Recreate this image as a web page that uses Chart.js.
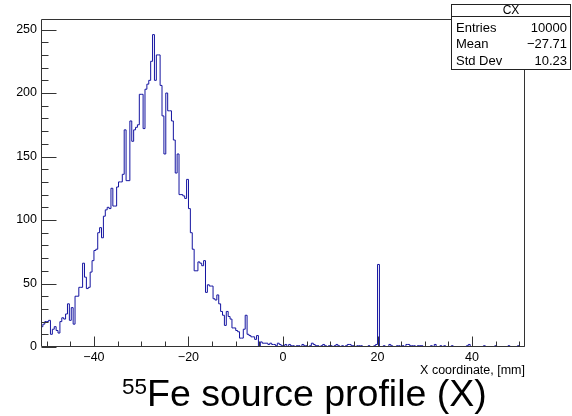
<!DOCTYPE html>
<html>
<head>
<meta charset="utf-8">
<script src="https://cdn.jsdelivr.net/npm/chart.js@4/dist/chart.umd.min.js"></script>
<style>
  body { margin: 0; background: #fff; }
  #wrap { position: relative; width: 572px; height: 416px; font-family: 'Liberation Sans', Arial, sans-serif; }
  #cx { position: absolute; left: 0; top: 0; display: block; }
  #stats { position: absolute; left: 451px; top: 4px; width: 118px; height: 64px; border: 1px solid #222; background: #fff; font-size: 13px; color: #000; }
  #stats .hdr { height: 11px; line-height: 11px; font-size: 12px; text-align: center; border-bottom: 1px solid #222; }
  #stats .rows { padding-top: 3px; }
  #stats .row { display: flex; justify-content: space-between; height: 16.3px; line-height: 16px; padding: 0 3px 0 4px; }
  #title { position: absolute; left: 122px; top: 375px; font-size: 37.5px; line-height: 36px; white-space: nowrap; color: #000; }
  #title .sup { font-size: 22.5px; position: relative; top: -12px; }
</style>
</head>
<body>
<div id="wrap">
  <canvas id="cx" width="572" height="416"></canvas>
  <div id="stats"></div>
  <div id="title"><span class="sup">55</span>Fe source profile (X)</div>
</div>
<script>
// histogram binning: 256 strips, 0.4 mm pitch
const xMin = -51.2;
const xMax = 51.2;
const binWidth = 0.4;

// bin contents, left to right
const countsA = [
    16, 18, 20, 20, 21, 10, 14, 16, 13, 11, 20, 23, 22, 26, 34, 21,
    31, 18, 40, 40, 47, 47, 66, 55, 46, 47, 59, 68, 76, 77, 90, 94,
    86, 103, 108, 110, 109, 125, 111, 111, 126, 130, 130, 136, 171, 131,
    131, 178, 162, 171, 173, 175, 199, 199, 172, 203, 207, 210, 225, 246,
    210, 230, 230, 206
];
const countsB = [
    182, 152, 200, 186, 186, 178, 163, 137, 152, 120, 120, 119, 117, 132, 109, 90,
    77, 60, 60, 67, 66, 64, 68, 43, 49, 48, 48, 38, 37, 41, 34, 28,
    25, 17, 28, 24, 22, 15, 15, 13, 12, 7, 7, 14, 25, 10, 9, 8,
    8, 6, 9, 0, 4, 3, 3, 3, 2, 3, 2, 2, 1, 3, 2, 1
];
const countsC = [
    1, 2, 0, 2, 1, 1, 0, 1, 1, 0, 2, 1, 1, 0, 1, 3,
    2, 1, 1, 0, 1, 2, 1, 0, 1, 1, 0, 1, 2, 1, 0, 1,
    0, 1, 2, 2, 1, 1, 0, 1, 1, 1, 0, 0, 0, 1, 0, 0,
    1, 2, 65, 0, 0, 1, 0, 0, 2, 1, 0, 0, 1, 1, 0, 1
];
const countsD = [
    0, 2, 2, 1, 1, 1, 0, 1, 1, 1, 0, 0, 0, 0, 1, 0,
    2, 0, 0, 1, 0, 1, 0, 0, 0, 1, 0, 0, 0, 0, 0, 0,
    0, 1, 2, 0, 0, 0, 0, 0, 0, 0, 1, 0, 0, 0, 0, 0,
    1, 0, 0, 0, 0, 0, 0, 1, 0, 0, 0, 0, 1, 0, 0, 0
];

const yMax = 258.3;
const xMajorTicks = [-40, -20, 0, 20, 40];
const yMajorTicks = [0, 50, 100, 150, 200, 250];

const statTitle = "CX";
const statLabels = ["Entries", "Mean", "Std Dev"];
const statValues = ["10000", "\u221227.71", "10.23"];

const xTitle = "X coordinate, [mm]";

let counts = countsA.concat(countsB, countsC, countsD);
let points = counts.map((c, i) => ({x: xMin + i * binWidth, y: c}));
points.push({x: xMax, y: counts[counts.length - 1]});

// stats box
let stats = document.getElementById("stats");
let html = `<div class="hdr">${statTitle}</div><div class="rows">`;
statLabels.forEach((lab, i) => {
    html += `<div class="row"><span>${lab}</span><span>${statValues[i]}</span></div>`;
});
stats.innerHTML = html + "</div>";

const fontFamily = "'Liberation Sans', Arial, sans-serif";

function fmtTick(v) {
    return v < 0 ? "\u2212" + Math.abs(v) : String(v);
}

// ROOT style frame with inward ticks
const framePlugin = {
    id: "frame",
    afterDatasetsDraw(chart) {
        let ctx = chart.ctx;
        let area = chart.chartArea;
        let xs = chart.scales.x;
        let ys = chart.scales.y;
        let l = Math.round(area.left) + 0.5;
        let r = Math.round(area.right) - 0.5;
        let t = Math.round(area.top) + 0.5;
        let b = Math.round(area.bottom) - 0.5;
        ctx.save();
        ctx.strokeStyle = "#333";
        ctx.lineWidth = 1;
        ctx.beginPath();
        ctx.rect(l, t, r - l, b - t);
        // x ticks: major every 20, minor every 5
        for (let v = -50; v <= 50; v += 5) {
            let px = Math.round(xs.getPixelForValue(v)) + 0.5;
            let len = (v % 20 === 0) ? 10 : 5;
            ctx.moveTo(px, b);
            ctx.lineTo(px, b - len);
        }
        // y ticks: major every 50, minor every 10
        for (let v = 0; v <= 250; v += 10) {
            let py = Math.round(ys.getPixelForValue(v)) + 0.5;
            let len = (v % 50 === 0) ? 15 : 7;
            ctx.moveTo(l, py);
            ctx.lineTo(l + len, py);
        }
        ctx.stroke();
        ctx.restore();
    }
};

let ctx = document.getElementById("cx").getContext("2d");

new Chart(ctx, {
    type: "line",
    data: {
        datasets: [{
            data: points,
            borderColor: "rgb(20, 20, 160)",
            borderWidth: 1,
            stepped: true,
            pointRadius: 0,
            fill: false,
        }]
    },
    options: {
        responsive: false,
        animation: false,
        layout: {padding: {left: 0, right: 47, top: 19, bottom: 0}},
        plugins: {
            legend: {display: false},
            tooltip: {enabled: false},
        },
        scales: {
            x: {
                type: "linear",
                min: xMin,
                max: xMax,
                grid: {display: false, drawTicks: false},
                border: {display: false},
                afterBuildTicks: s => { s.ticks = xMajorTicks.map(v => ({value: v})); },
                afterFit: s => { s.height = 69; },
                ticks: {
                    padding: 3,
                    maxRotation: 0,
                    autoSkip: false,
                    color: "#000",
                    font: {family: fontFamily, size: 12.5},
                    callback: v => fmtTick(v),
                },
                title: {
                    display: true,
                    text: xTitle,
                    align: "end",
                    color: "#000",
                    font: {family: fontFamily, size: 12.5},
                    padding: {top: 0, bottom: 38},
                }
            },
            y: {
                min: 0,
                max: yMax,
                grid: {display: false, drawTicks: false},
                border: {display: false},
                afterBuildTicks: s => { s.ticks = yMajorTicks.map(v => ({value: v})); },
                afterFit: s => { s.width = 41; },
                ticks: {
                    padding: 4,
                    color: "#000",
                    font: {family: fontFamily, size: 12.5},
                    callback: v => fmtTick(v),
                }
            }
        }
    },
    plugins: [framePlugin]
});
</script>
</body>
</html>
